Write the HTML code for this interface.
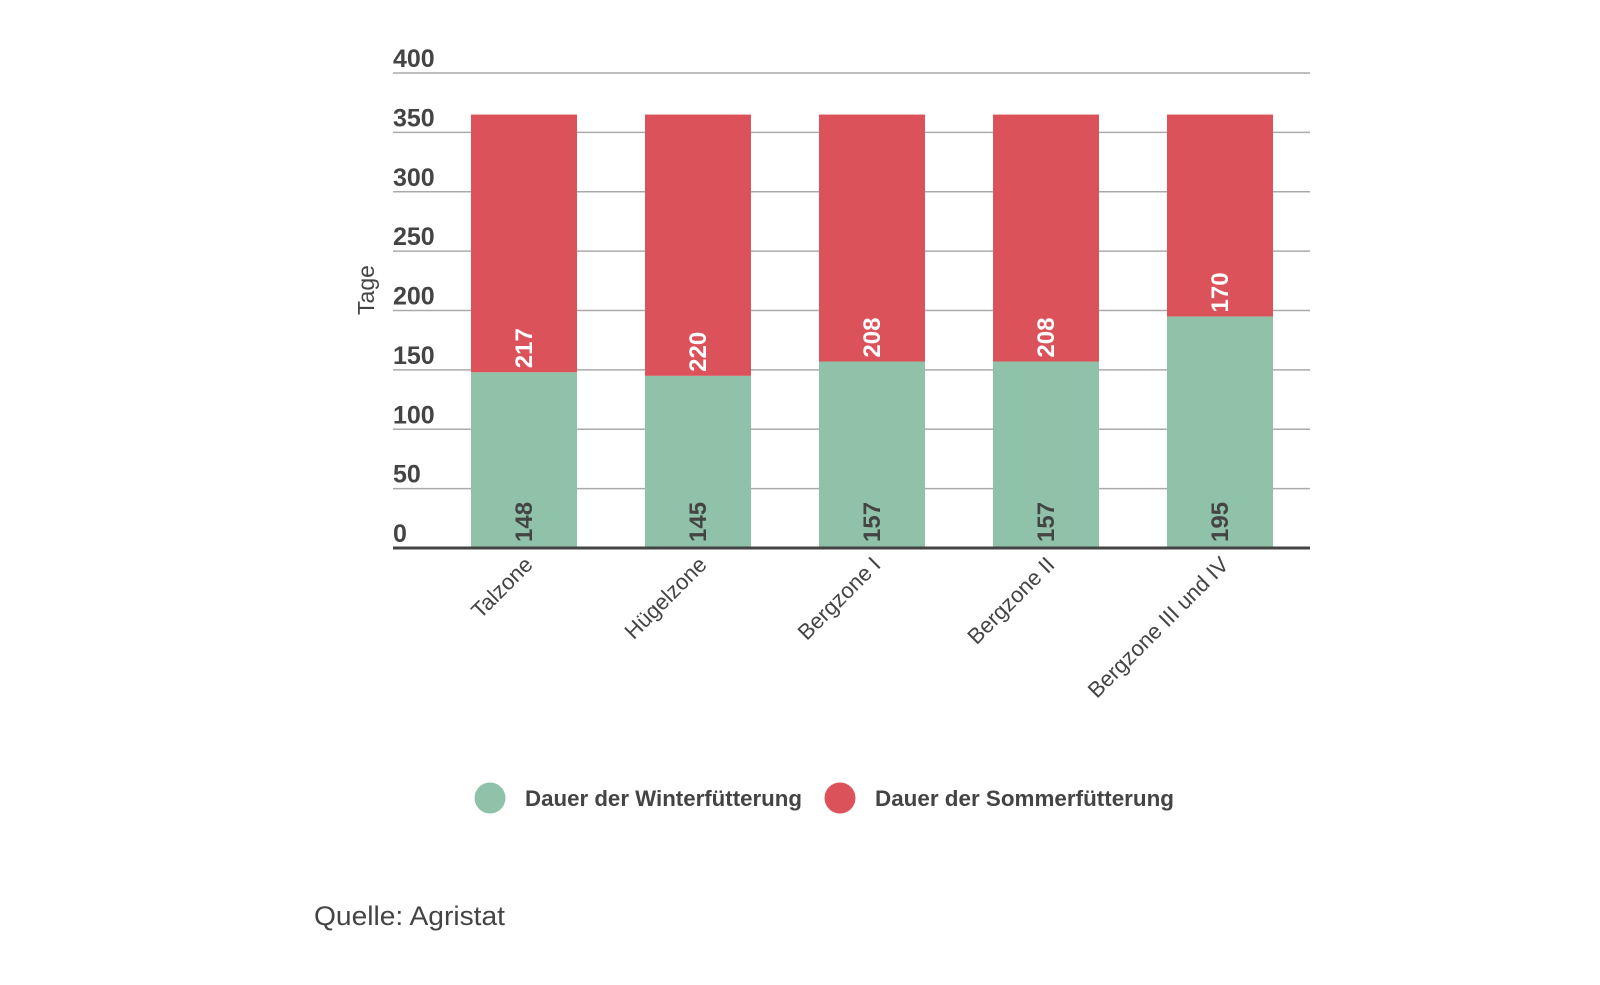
<!DOCTYPE html>
<html><head><meta charset="utf-8"><style>
html,body{margin:0;padding:0;background:#fff;}
svg{display:block;font-family:"Liberation Sans",sans-serif;}
</style></head><body>
<svg id="chart" width="1600" height="985" viewBox="0 0 1600 985" xmlns="http://www.w3.org/2000/svg">
<g id="grid"></g>
<g id="yticks"></g>
<text transform="translate(374,290) rotate(-90)" text-anchor="middle" font-size="23" fill="#444">Tage</text>
<g id="bars"></g>
<line x1="393" y1="548" x2="1310" y2="548" stroke="#444" stroke-width="3"/>
<g id="xlabels"></g>
<g>
<g>
<circle cx="490" cy="798" r="15.5" fill="#8fc2a8"/>
<text x="525" y="806" font-size="22" font-weight="bold" fill="#444" textLength="277" lengthAdjust="spacingAndGlyphs">Dauer der Winterfütterung</text>
</g>
<g>
<circle cx="840" cy="798" r="15.5" fill="#dc525a"/>
<text x="875" y="806" font-size="22" font-weight="bold" fill="#444" textLength="299" lengthAdjust="spacingAndGlyphs">Dauer der Sommerfütterung</text>
</g>
</g>
<text x="314" y="925" font-size="27" fill="#444" textLength="191" lengthAdjust="spacingAndGlyphs">Quelle: Agristat</text>
</svg>
<script>
const categories = ["Talzone","Hügelzone","Bergzone I","Bergzone II","Bergzone III und IV"];
const winter = [148,145,157,157,195];
const sommer = [217,220,208,208,170];
const yTicks = [0,50,100,150,200,250,300,350,400];
const NS="http://www.w3.org/2000/svg";
const y0=548, yTop=73, yMax=400, xL=393, xR=1310;
const y = v => y0 - (v/yMax)*(y0-yTop);
const barW=106, firstX=471, step=174;
const x = i => firstX + i*step;
function mk(tag, attrs, parent){const e=document.createElementNS(NS,tag);for(const k in attrs)e.setAttribute(k,attrs[k]);parent.appendChild(e);return e;}
const grid=document.getElementById('grid'), yt=document.getElementById('yticks');
yTicks.forEach(t=>{
  if(t>0){const l=mk('line',{x1:xL,x2:xR,y1:y(t),y2:y(t),stroke:'#aaa','stroke-width':1.6},grid);
  
  }
  const tx=mk('text',{x:xL,y:y(t)-6,'font-size':25,'font-weight':'bold',fill:'#444'},yt);
  tx.textContent=t;
  
  
});
const bars=document.getElementById('bars'), xl=document.getElementById('xlabels');
categories.forEach((c,i)=>{
  const cx=x(i)+barW/2;
  const g=mk('rect',{x:x(i),y:y(winter[i]),width:barW,height:y0-y(winter[i]),fill:'#8fc2a8'},bars);
  
  
  const r=mk('rect',{x:x(i),y:y(winter[i]+sommer[i]),width:barW,height:y(winter[i])-y(winter[i]+sommer[i]),fill:'#dc525a'},bars);
  
  
  const wl=mk('text',{transform:`translate(${cx+8},${y0-6}) rotate(-90)`,'font-size':24,'font-weight':'bold',fill:'#444'},bars);
  wl.textContent=winter[i];
  
  
  const sl=mk('text',{transform:`translate(${cx+8},${y(winter[i])-4}) rotate(-90)`,'font-size':24,'font-weight':'bold',fill:'#fff'},bars);
  sl.textContent=sommer[i];
  
  
  const lb=mk('text',{transform:`translate(${cx+10},${y0+18}) rotate(-45)`,'text-anchor':'end','font-size':22,fill:'#444'},xl);
  lb.textContent=c;
  
  
});
</script>
</body></html>
